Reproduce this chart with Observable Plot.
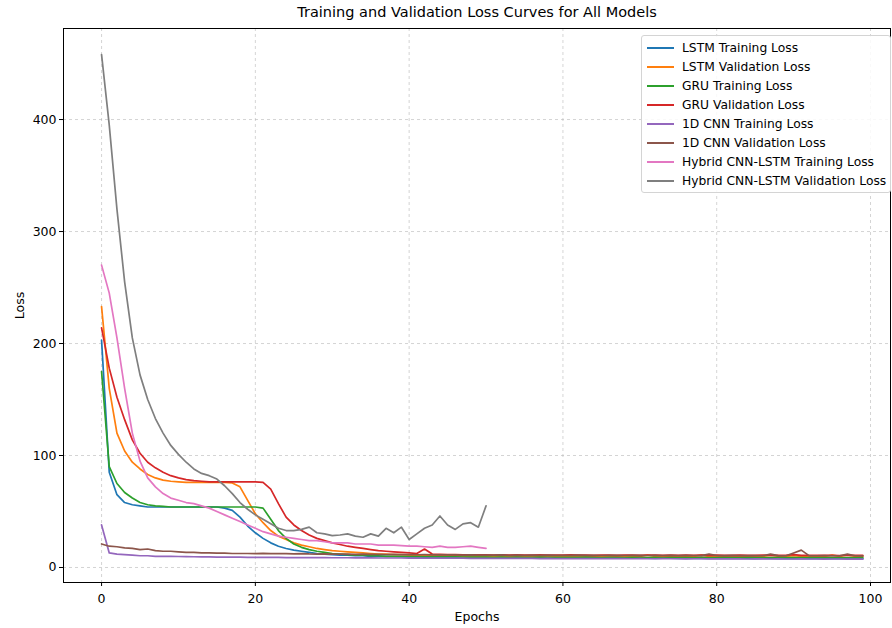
<!DOCTYPE html>
<html><head><meta charset="utf-8">
<script src="https://cdn.jsdelivr.net/npm/d3@7"></script>
<script src="https://cdn.jsdelivr.net/npm/@observablehq/plot@0.6"></script>
<style>
body{margin:0;background:#fff;}
#wrap{position:relative;width:892px;height:628px;font-family:"DejaVu Sans",sans-serif;}
#legend{position:absolute;left:641px;top:35px;width:250px;border:1px solid #d4d4d4;border-radius:3px;background:rgba(255,255,255,0.85);padding:2px 0;font-size:12.3px;color:#000;box-sizing:border-box;}
.row{display:flex;align-items:center;height:19px;white-space:nowrap;}
.sw{width:27px;height:2px;margin-left:5px;margin-right:8px;flex:none;}
</style></head><body><div id="wrap"><div id="legend"></div></div>
<script>
const title = "Training and Validation Loss Curves for All Models";
const seriesNames = ["LSTM Training Loss","LSTM Validation Loss","GRU Training Loss","GRU Validation Loss","1D CNN Training Loss","1D CNN Validation Loss","Hybrid CNN-LSTM Training Loss","Hybrid CNN-LSTM Validation Loss"];
const seriesColors = ["#1f77b4","#ff7f0e","#2ca02c","#d62728","#9467bd","#8c564b","#e377c2","#7f7f7f"];
const xTicks = [0,20,40,60,80,100];
const yTicks = [0,100,200,300,400];

const lstmTrain = [203,85,65,58,56,55,54,54,54,54, 54,54,54,54,54,54,53,51,45,37, 31,26,22,19,17,15.5,14.5,13.5,12.5,12, 11.5,11,11,10.5,10.5,10,10,10,9.8,9.6,
 9.5,9.4,9.3,9.2,9.1,9,9,8.9,8.9,8.8, 8.8,8.7,8.7,8.8,8.6,8.6,8.7,8.5,8.6,8.5, 8.5,8.4,8.6,8.4,8.5,8.4,8.3,8.5,8.4,8.3,
 8.3,8.4,8.2,8.3,8.3,8.2,8.4,8.2,8.1,8.3, 8.2,8.1,8.2,8.1,8.2,8.0,8.1,8.2,8.0,8.1, 8.0,8.1,8.0,8.1,7.9,8.0,8.0,7.9,8.0,7.9];
const lstmVal = [233,160,120,104,94,88,83,80,78,77, 76.5,76,76,76,76,76,76,75.5,72,60, 48,40,33,28,25,22,20,18.5,17,16, 15,14.5,14,13.5,13,12.5,12,12,11.5,11.5,
 11,11,10.8,10.6,10.5,10.4,10.3,10.2,10.1,10, 10.2,9.9,10.1,9.8,10,10.2,9.9,10,9.8,10.1, 9.9,10,10.3,9.8,10,9.9,10.1,9.8,10.2,9.9,
 10,11,9.8,10.1,9.9,10,10.2,9.9,11,10, 9.9,10.1,10,9.8,10.2,9.9,10,11,10.1,9.9, 10.5,10,9.9,10.1,9.8,11,10,11.2,10,9.9];
const gruTrain = [175,90,75,67,62,58,56,55,54.5,54, 54,54,54,54,54,54,54,54,54,54, 54,53,43,33,26,21,18,16,14.5,13.5, 12.5,12,11.5,11,11,10.5,10.5,10,10,10,
 9.8,9.7,9.6,9.5,9.5,9.4,9.4,9.3,9.3,9.2, 9.3,9.1,9.2,9.1,9.2,9,9.1,9.2,9,9.1, 9,9.1,9,9.2,9,8.9,9.1,9,8.9,9,
 9,8.9,9.1,8.9,9,8.9,9,8.8,9,8.9, 8.9,9,8.8,8.9,9,8.8,8.9,8.8,9,8.8, 8.9,8.8,8.9,8.8,8.9,8.8,8.7,8.9,8.8,8.8];
const gruVal = [214,178,152,132,114,102,94,89,85,82, 80,78.5,77.5,77,76.5,76.5,76.5,76.5,76.5,76.5, 76.5,76,70,57,45,38,33,29,26,24, 22,20.5,19,18,17,16,15,14.5,14,13.5,
 13,12.5,16.5,12,11.8,11.6,11.5,11.4,11.3,11.2, 11.2,11.1,11.3,11,11.2,11.1,11,11.2,11,11.1, 11,11.2,11,11.1,10.9,11,11.1,10.9,11,11,
 10.9,11,11.1,10.9,11,10.9,11,10.8,11,10.9, 11,10.9,10.8,11,10.9,10.8,11,10.9,10.8,10.9, 11.5,10.8,10.9,10.8,10.9,10.8,10.7,10.9,10.8,10.8];
const cnnTrain = [38,13,12,11.5,11,10.5,10.5,10,10,10, 9.8,9.7,9.6,9.5,9.4,9.3,9.3,9.2,9.2,9.1, 9.1,9,9,9,8.9,8.9,8.9,8.8,8.8,8.8, 8.7,8.7,8.7,8.6,8.6,8.6,8.5,8.5,8.5,8.5,
 8.4,8.4,8.4,8.4,8.3,8.3,8.3,8.3,8.2,8.2, 8.2,8.2,8.1,8.2,8.1,8.1,8.1,8.0,8.1,8.0, 8.0,8.0,7.9,8.0,7.9,7.9,8.0,7.9,7.9,7.8,
 7.9,7.8,7.8,7.9,7.8,7.8,7.7,7.8,7.8,7.7, 7.7,7.8,7.7,7.7,7.6,7.7,7.7,7.6,7.7,7.6, 7.6,7.7,7.6,7.6,7.5,7.6,7.6,7.5,7.6,7.5];
const cnnVal = [21,19,18.5,17.5,17,16,16.5,15,14.5,14.5, 14,13.5,13.5,13,13,12.8,12.8,12.5,12.5,12.5, 12.4,12.6,12.3,12.5,12.3,12.2,12.4,12.1,12,12.2, 12,11.9,12,11.8,11.9,11.7,11.8,11.6,11.7,11.5,
 11.5,11.4,11.5,11.3,11.4,11.2,11.3,11.1,11.2,11, 11.1,11,11.2,10.9,11,10.9,11.1,10.8,11,10.9, 10.8,10.9,11,10.8,10.9,10.7,10.9,10.8,10.7,10.9,
 10.8,10.7,10.9,10.7,10.8,10.6,10.8,10.7,10.6,12, 10.7,10.6,10.8,10.6,10.7,10.6,10.5,12,10.6,10.5, 13,15.5,10.6,10.5,10.6,10.5,10.4,12,10.5,10.4];
const hybridTrain = [270,245,205,160,120,95,80,72,66,62, 60,58,57,55,53,50,47,44,41,38, 35,32,30,28,27,26,25,24,24,23, 22,22,22,21,21,21,20,20,20,19.5, 19,19,18.5,18,19,18,18,18.5,19,18, 17];
const hybridVal = [458,395,320,255,205,172,150,133,120,109, 101,94,88,84,82,79,73,66,58,52, 47,43,39,35,33,33,34,36,31,30, 28.5,29,30,28,27,30,28,35,31,36, 25,30,35,38,46,38,34,39,40,36, 55];

const allSeries = [lstmTrain,lstmVal,gruTrain,gruVal,cnnTrain,cnnVal,hybridTrain,hybridVal];
const rows = [];
allSeries.forEach((vals,i)=>vals.forEach((v,e)=>rows.push({series:seriesNames[i],epoch:e,loss:v})));

const font = "DejaVu Sans, sans-serif";
const chart = Plot.plot({
  width: 892, height: 628,
  marginLeft: 63, marginRight: 2, marginTop: 28, marginBottom: 46,
  style: {fontFamily: font, fontSize: "12.5px", background: "#fff", color: "#000"},
  x: {domain: [-4.95, 102.6]},
  y: {domain: [-13.4, 481.3]},
  color: {domain: seriesNames, range: seriesColors},
  marks: [
    Plot.gridX(xTicks, {stroke: "#b0b0b0", strokeOpacity: 0.55, strokeDasharray: "3,3"}),
    Plot.gridY(yTicks, {stroke: "#b0b0b0", strokeOpacity: 0.55, strokeDasharray: "3,3"}),
    Plot.lineY(rows, {x: "epoch", y: "loss", z: "series", stroke: "series", strokeWidth: 1.7}),
    Plot.frame({stroke: "#000", strokeWidth: 1}),
    Plot.axisX({ticks: xTicks, tickSize: 4, tickPadding: 8, fontSize: 12.5, label: "Epochs", labelAnchor: "center", labelArrow: "none", labelOffset: 38}),
    Plot.axisY({ticks: yTicks, tickSize: 4, tickPadding: 3, fontSize: 12.5, label: "Loss", labelAnchor: "center", labelArrow: "none", labelOffset: 48}),
    Plot.text([title], {frameAnchor: "top", lineAnchor: "middle", dy: -16, fontSize: 14.5, fill: "#000"})
  ]
});
const wrap = document.getElementById("wrap");
wrap.insertBefore(chart, wrap.firstChild);

const legend = document.getElementById("legend");
seriesNames.forEach((n,i)=>{
  const r = document.createElement("div"); r.className = "row";
  const s = document.createElement("span"); s.className = "sw"; s.style.background = seriesColors[i];
  const t = document.createElement("span"); t.textContent = n;
  r.appendChild(s); r.appendChild(t); legend.appendChild(r);
});
</script></body></html>
